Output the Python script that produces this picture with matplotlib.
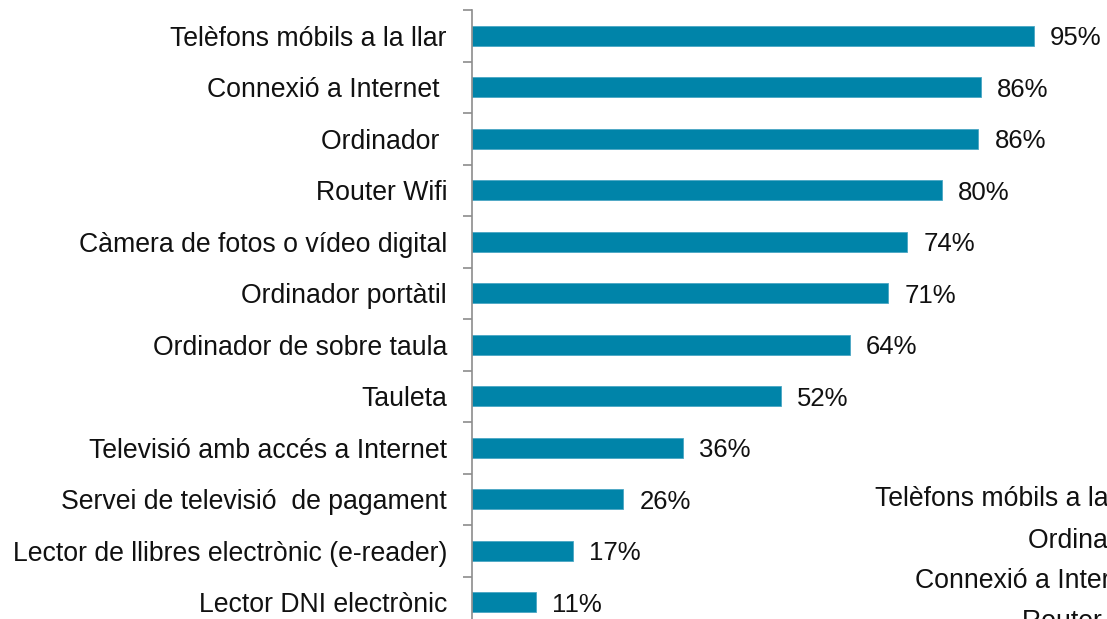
import matplotlib
matplotlib.use("Agg")
import matplotlib.pyplot as plt
import numpy as np

categories = [
    "Telèfons móbils a la llar",
    "Connexió a Internet ",
    "Ordinador ",
    "Router Wifi",
    "Càmera de fotos o vídeo digital",
    "Ordinador portàtil",
    "Ordinador de sobre taula",
    "Tauleta",
    "Televisió amb accés a Internet",
    "Servei de televisió  de pagament",
    "Lector de llibres electrònic (e-reader)",
    "Lector DNI electrònic",
]
values = [95.0, 86.0, 85.6, 79.5, 73.6, 70.4, 63.9, 52.3, 35.6, 25.6, 17.1, 10.9]
value_labels = ["95%", "86%", "86%", "80%", "74%", "71%", "64%", "52%", "36%", "26%", "17%", "11%"]

# stray labels from an overlapping chart (bottom right, clipped)
stray_labels = ["Telèfons móbils a la llar", "Ordinador ", "Connexió a Internet ", "Router Wifi"]

plt.rcParams['font.family'] = ['Liberation Sans', 'DejaVu Sans']

W, H = 1107, 619
fig = plt.figure(figsize=(W / 100, H / 100), dpi=100)
left_px, top_px, bottom_px = 472, 10, 628
px_per_unit = 5.916
xmax = 100
ax = fig.add_axes([left_px / W, 1 - bottom_px / H, xmax * px_per_unit / W, (bottom_px - top_px) / H])

color = "#0084A9"
fs = 19.2
y = np.arange(len(categories))
ax.barh(y, values, height=0.39, color=color, edgecolor="#4aa6c4", linewidth=0.6)
ax.set_xlim(0, xmax)
ax.set_ylim(len(categories) - 0.5, -0.5)

for yi, v, lab in zip(y, values, value_labels):
    ax.text(v + 16 / px_per_unit, yi, lab, va="center_baseline", ha="left", fontsize=18.5, color="#111111")

ax.set_yticks(y)
ax.set_yticklabels(categories, fontsize=fs, color="#111111")
ax.tick_params(axis="y", which="major", length=0, pad=18)
ax.set_yticks(np.arange(len(categories) + 1) - 0.5, minor=True)
ax.tick_params(axis="y", which="minor", length=6.5, width=1.2, color="#8c8c8c", direction="out")
ax.set_xticks([])

for s in ["top", "right", "bottom"]:
    ax.spines[s].set_visible(False)
ax.spines["left"].set_color("#8c8c8c")
ax.spines["left"].set_linewidth(1.2)

stray_x = [875, 1028, 915, 1022]
stray_y = [499, 541, 581, 622]
for lab, sx, sy in zip(stray_labels, stray_x, stray_y):
    fig.text(sx / W, 1 - sy / H, lab, ha="left", va="center", fontsize=fs, color="#111111")

fig.savefig("out.png", dpi=100)
